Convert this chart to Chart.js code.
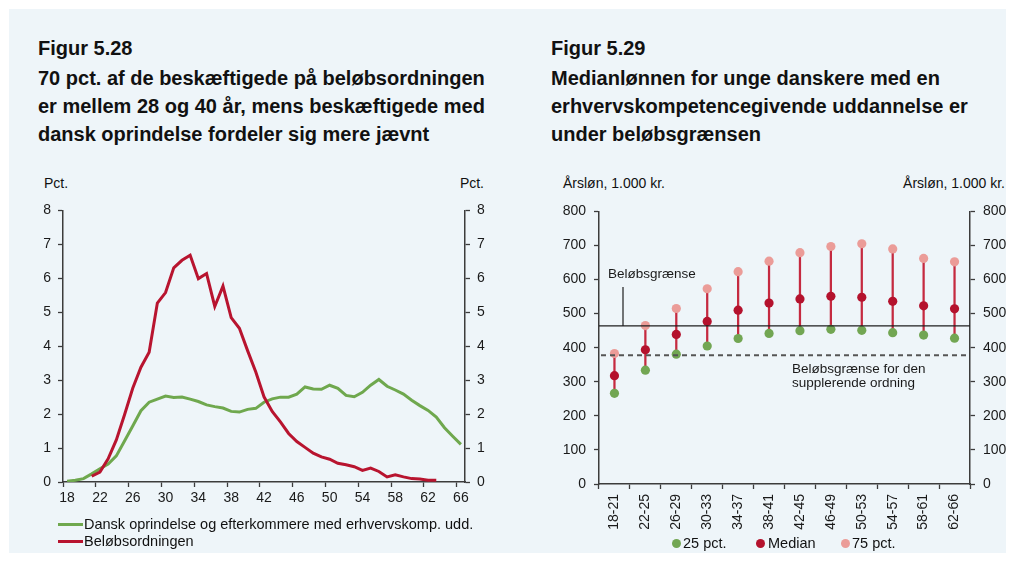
<!DOCTYPE html>
<html lang="da">
<head>
<meta charset="utf-8">
<script src="https://cdn.jsdelivr.net/npm/chart.js@4.4.1/dist/chart.umd.min.js"></script>
<style>
  html, body { margin: 0; padding: 0; background: #ffffff; }
  body { width: 1015px; height: 562px; position: relative; overflow: hidden;
         font-family: 'Liberation Sans', Arial, sans-serif; color: #111; }
  #panel { position: absolute; left: 9px; top: 9px; width: 997px; height: 544px; background: #eef5f9; }
  .fignum, .heading { position: absolute; font-weight: bold; font-size: 20px; line-height: 28px; white-space: nowrap; }
  .unit { position: absolute; font-size: 14px; line-height: 16px; white-space: nowrap; }
  .leg { position: absolute; font-size: 14.5px; line-height: 17px; white-space: nowrap; }
  .swatch { position: absolute; height: 3px; width: 25px; }
  .dot { position: absolute; width: 9px; height: 9px; border-radius: 50%; }
  canvas { position: absolute; }
</style>
</head>
<body>
<div id="panel"></div>

<div class="fignum" style="left:38px; top:34px;">Figur 5.28</div>
<div class="heading" style="left:38px; top:64px;">70 pct. af de beskæftigede på beløbsordningen<br>er mellem 28 og 40 år, mens beskæftigede med<br>dansk oprindelse fordeler sig mere jævnt</div>

<div class="fignum" style="left:551px; top:34px;">Figur 5.29</div>
<div class="heading" style="left:551px; top:64px;">Medianlønnen for unge danskere med en<br>erhvervskompetencegivende uddannelse er<br>under beløbsgrænsen</div>

<div class="unit" style="left:44px; top:175px;">Pct.</div>
<div class="unit" style="right:531px; top:175px;">Pct.</div>
<div class="unit" style="left:563px; top:175px;">Årsløn, 1.000 kr.</div>
<div class="unit" style="right:10px; top:175px;">Årsløn, 1.000 kr.</div>

<canvas id="fig528" width="470" height="315" style="left:30px; top:195px;"></canvas>
<canvas id="fig529" width="470" height="345" style="left:540px; top:195px;"></canvas>

<div class="swatch" style="left:58px; top:523px; background:#6fa84e;"></div>
<div class="leg" style="left:84px; top:516px;">Dansk oprindelse og efterkommere med erhvervskomp. udd.</div>
<div class="swatch" style="left:58px; top:540px; background:#b8142f;"></div>
<div class="leg" style="left:84px; top:533px;">Beløbsordningen</div>

<div class="dot" style="left:672px; top:539px; background:#72a653;"></div>
<div class="leg" style="left:683px; top:535px;">25 pct.</div>
<div class="dot" style="left:756px; top:539px; background:#b4122d;"></div>
<div class="leg" style="left:768px; top:535px;">Median</div>
<div class="dot" style="left:841px; top:539px; background:#eb9c98;"></div>
<div class="leg" style="left:852px; top:535px;">75 pct.</div>

<script>
// Figur 5.28: share of employed by age (pct.)
const ages = ['18','19','20','21','22','23','24','25','26','27','28','29','30','31','32','33','34',
  '35','36','37','38','39','40','41','42','43','44','45','46','47','48','49','50','51','52','53',
  '54','55','56','57','58','59','60','61','62','63','64','65','66'];
const danskOprindelse = [0.02,0.05,0.10,0.24,0.39,0.53,0.77,1.21,1.65,2.10,2.35,2.44,2.53,2.49,
  2.50,2.44,2.37,2.27,2.22,2.18,2.08,2.06,2.14,2.17,2.35,2.45,2.50,2.50,2.59,2.80,2.74,2.73,2.85,
  2.76,2.55,2.51,2.64,2.85,3.02,2.82,2.71,2.59,2.41,2.25,2.11,1.91,1.60,1.35,1.11];
const beloebsordningen = [null,null,null,0.17,0.29,0.68,1.24,1.98,2.76,3.38,3.82,5.27,5.58,6.31,
  6.53,6.68,5.99,6.14,5.17,5.77,4.84,4.53,3.87,3.24,2.51,2.08,1.77,1.43,1.19,1.02,0.85,0.74,0.67,
  0.55,0.51,0.45,0.34,0.41,0.31,0.15,0.21,0.15,0.10,0.09,0.05,0.05,null,null,null];

// Figur 5.29: annual wage by age group (1.000 kr.)
const ageGroups = ['18-21','22-25','26-29','30-33','34-37','38-41','42-45','46-49','50-53','54-57','58-61','62-66'];
const pct25  = [266,334,381,405,427,442,450,454,451,444,437,428];
const median = [318,394,439,477,510,531,543,551,548,536,523,514];
const pct75  = [383,465,515,573,623,654,679,697,705,690,662,652];
const beloebsgraense = 464;
const suppGraense = 378;

Chart.defaults.font.family = "'Liberation Sans', Arial, sans-serif";
Chart.defaults.font.size = 14;
Chart.defaults.color = '#1a1a1a';

const axisColor = '#3c3c3c';

function yAxis(position, min, max, step, width, pad) {
  return {
    position, min, max,
    ticks: { stepSize: step, padding: pad },
    grid: { drawOnChartArea: false, tickLength: 5, tickColor: axisColor, tickWidth: 1.3 },
    border: { color: axisColor, width: 1.5 },
    afterFit: s => { s.width = width; }
  };
}

new Chart(document.getElementById('fig528'), {
  type: 'line',
  data: {
    labels: ages,
    datasets: [
      { label: 'Dansk oprindelse og efterkommere med erhvervskomp. udd.', data: danskOprindelse,
        borderColor: '#6fa84e', borderWidth: 3, pointRadius: 0, order: 2, yAxisID: 'y' },
      { label: 'Beløbsordningen', data: beloebsordningen,
        borderColor: '#b8142f', borderWidth: 3, pointRadius: 0, order: 1, yAxisID: 'y' }
    ]
  },
  options: {
    responsive: false, animation: false, devicePixelRatio: 1,
    layout: { padding: { top: 11, left: 0, right: 0, bottom: 0 } },
    plugins: { legend: { display: false }, tooltip: { enabled: false } },
    scales: {
      x: {
        type: 'category', offset: true,
        grid: { offset: true, drawOnChartArea: false, tickLength: 5, tickWidth: 1.3,
                tickColor: c => (c.index % 4 === 0 ? axisColor : 'rgba(0,0,0,0)') },
        border: { color: axisColor, width: 1.5 },
        ticks: { autoSkip: false, maxRotation: 0, minRotation: 0, padding: 3,
                 callback: (v, i) => (i % 4 === 0 ? ages[i] : '') },
        afterFit: s => { s.height = 28; }
      },
      y: yAxis('left', 0, 8, 1, 33, 7),
      y2: yAxis('right', 0, 8, 1, 35, 7)
    }
  }
});

// Threshold lines and their labels for Figur 5.29
const thresholdPlugin = {
  id: 'thresholds',
  afterDatasetsDraw(chart) {
    const { ctx, chartArea: a, scales: { y } } = chart;
    const ySolid = y.getPixelForValue(beloebsgraense);
    const yDash = y.getPixelForValue(suppGraense);
    ctx.save();
    ctx.strokeStyle = '#1e1e1e';
    ctx.lineWidth = 1.4;
    ctx.beginPath(); ctx.moveTo(a.left, ySolid); ctx.lineTo(a.right, ySolid); ctx.stroke();
    // pointer from label to the line
    const px = a.left + 24;
    ctx.lineWidth = 1.2;
    ctx.beginPath(); ctx.moveTo(px, y.getPixelForValue(578)); ctx.lineTo(px, ySolid); ctx.stroke();
    ctx.strokeStyle = '#555';
    ctx.lineWidth = 2;
    ctx.setLineDash([5, 4]);
    ctx.beginPath(); ctx.moveTo(a.left + 2, yDash); ctx.lineTo(a.right, yDash); ctx.stroke();
    ctx.setLineDash([]);
    ctx.fillStyle = '#1a1a1a';
    ctx.font = "13.5px 'Liberation Sans', Arial, sans-serif";
    ctx.textBaseline = 'middle';
    ctx.textAlign = 'left';
    ctx.fillText('Beløbsgrænse', a.left + 9, y.getPixelForValue(616));
    ctx.fillText('Beløbsgrænse for den', a.left + 193, y.getPixelForValue(338));
    ctx.fillText('supplerende ordning', a.left + 193, y.getPixelForValue(295));
    ctx.restore();
  }
};

const dotSet = (label, data, color, order) => ({
  type: 'line', label, data, showLine: false, order, yAxisID: 'y',
  pointRadius: 4.6, pointBorderWidth: 0, pointBackgroundColor: color, borderColor: color
});

new Chart(document.getElementById('fig529'), {
  type: 'bar',
  data: {
    labels: ageGroups,
    datasets: [
      { label: 'Spænd', data: pct25.map((v, i) => [v, pct75[i]]), backgroundColor: '#c52a40',
        barThickness: 1.6, order: 10, yAxisID: 'y' },
      dotSet('75 pct.', pct75, '#eb9c98', 3),
      dotSet('25 pct.', pct25, '#72a653', 2),
      dotSet('Median', median, '#b4122d', 1)
    ]
  },
  options: {
    responsive: false, animation: false, devicePixelRatio: 1,
    layout: { padding: { top: 11, left: 0, right: 0, bottom: 0 } },
    plugins: { legend: { display: false }, tooltip: { enabled: false } },
    scales: {
      x: {
        type: 'category', offset: true,
        grid: { offset: true, drawOnChartArea: false, tickLength: 5, tickWidth: 1.3, tickColor: axisColor },
        border: { color: axisColor, width: 1.5 },
        ticks: { autoSkip: false, maxRotation: 90, minRotation: 90, padding: 5 },
        afterFit: s => { s.height = 56; }
      },
      y: yAxis('left', 0, 800, 100, 59, 8),
      y2: yAxis('right', 0, 800, 100, 40, 8)
    }
  },
  plugins: [thresholdPlugin]
});
</script>
</body>
</html>
